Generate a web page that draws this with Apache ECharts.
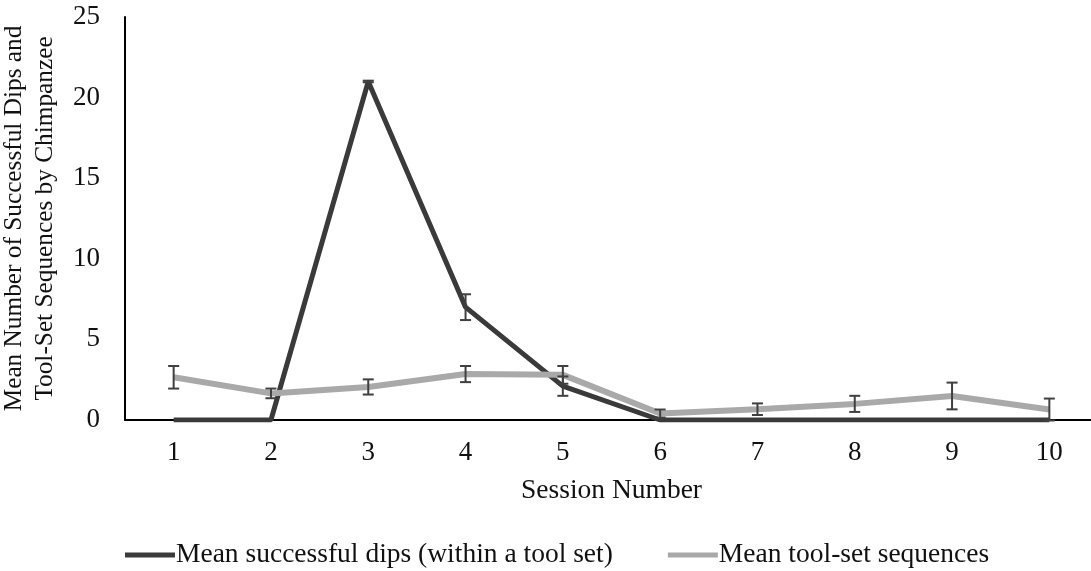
<!DOCTYPE html>
<html>
<head>
<meta charset="utf-8">
<script src="https://cdn.jsdelivr.net/npm/echarts@6/dist/echarts.min.js"></script>
<style>
html,body{margin:0;padding:0;background:#fff;}
#chart{width:1091px;height:571px;}
</style>
</head>
<body>
<div id="chart"></div>
<script>
const sessions = ['1','2','3','4','5','6','7','8','9','10'];
const dipsMean = [0, 0, 21, 7, 2.1, 0, 0, 0, 0, 0];
const dipsErr  = [0, 0, 0.05, 0.8, 0.6, 0, 0, 0, 0, 0];
const seqMean  = [2.65, 1.65, 2.05, 2.85, 2.8, 0.4, 0.67, 1.0, 1.49, 0.65];
const seqErr   = [0.7, 0.3, 0.47, 0.5, 0.55, 0.25, 0.36, 0.5, 0.83, 0.68];
const yTicks = [0, 5, 10, 15, 20, 25];

const FONT = 'Liberation Serif';
const DARK = '#3a3a3a';
const GRAY = '#a9a9a9';
const ERRC = '#404040';

function errData(means, errs) {
  const out = [];
  means.forEach((m, i) => {
    if (errs[i] > 0) out.push([i, m - errs[i], m + errs[i]]);
  });
  return out;
}

function renderErr(params, api) {
  const x = api.value(0);
  const lo = api.coord([x, api.value(1)]);
  const hi = api.coord([x, api.value(2)]);
  const hw = 5.5;
  const st = {stroke: ERRC, lineWidth: 2};
  return {
    type: 'group',
    children: [
      {type: 'line', shape: {x1: lo[0], y1: lo[1], x2: hi[0], y2: hi[1]}, style: st},
      {type: 'line', shape: {x1: lo[0] - hw, y1: lo[1], x2: lo[0] + hw, y2: lo[1]}, style: st},
      {type: 'line', shape: {x1: hi[0] - hw, y1: hi[1], x2: hi[0] + hw, y2: hi[1]}, style: st}
    ]
  };
}

const chart = echarts.init(document.getElementById('chart'), null, {renderer: 'canvas'});
chart.setOption({
  animation: false,
  backgroundColor: '#fff',
  textStyle: {fontFamily: FONT},
  grid: {left: 125, right: -7, top: 17, bottom: 151, containLabel: false, outerBoundsMode: 'none'},
  legend: {
    data: ['Mean successful dips (within a tool set)', 'Mean tool-set sequences'],
    left: 120, top: 536,
    icon: 'rect', itemWidth: 50, itemHeight: 5, itemGap: 55,
    textStyle: {fontFamily: FONT, fontSize: 27.5, color: '#111', padding: [0, 0, 0, -4]}
  },
  xAxis: {
    type: 'category',
    data: sessions,
    boundaryGap: true,
    axisLine: {lineStyle: {color: '#000', width: 2}},
    axisTick: {show: false},
    axisLabel: {fontFamily: FONT, fontSize: 27, color: '#111', margin: 19},
    name: 'Session Number',
    nameLocation: 'middle',
    nameGap: 57,
    nameTextStyle: {fontFamily: FONT, fontSize: 27.5, color: '#111'}
  },
  yAxis: {
    type: 'value',
    min: 0, max: 25, interval: 5,
    axisLine: {show: true, lineStyle: {color: '#000', width: 2}},
    axisTick: {show: false},
    splitLine: {show: false},
    axisLabel: {fontFamily: FONT, fontSize: 27, color: '#111', margin: 25,
      formatter: v => yTicks.includes(v) ? String(v) : ''},
    name: 'Mean Number of Successful Dips and\nTool-Set Sequences by Chimpanzee',
    nameLocation: 'middle',
    nameRotate: 90,
    nameGap: 64,
    nameTextStyle: {fontFamily: FONT, fontSize: 25.3, color: '#111', lineHeight: 31, align: 'center'}
  },
  series: [
    {
      name: 'Mean successful dips (within a tool set)',
      type: 'line',
      data: dipsMean,
      symbol: 'none',
      lineStyle: {color: DARK, width: 5},
      itemStyle: {color: DARK},
      z: 2
    },
    {
      name: 'Mean tool-set sequences',
      type: 'line',
      data: seqMean,
      symbol: 'none',
      lineStyle: {color: GRAY, width: 6},
      itemStyle: {color: GRAY},
      z: 3
    },
    {
      name: 'dipsErr',
      type: 'custom',
      renderItem: renderErr,
      data: errData(dipsMean, dipsErr),
      encode: {x: 0, y: [1, 2]},
      z: 4,
      silent: true
    },
    {
      name: 'seqErr',
      type: 'custom',
      renderItem: renderErr,
      data: errData(seqMean, seqErr),
      encode: {x: 0, y: [1, 2]},
      z: 4,
      silent: true
    }
  ]
});
</script>
</body>
</html>
